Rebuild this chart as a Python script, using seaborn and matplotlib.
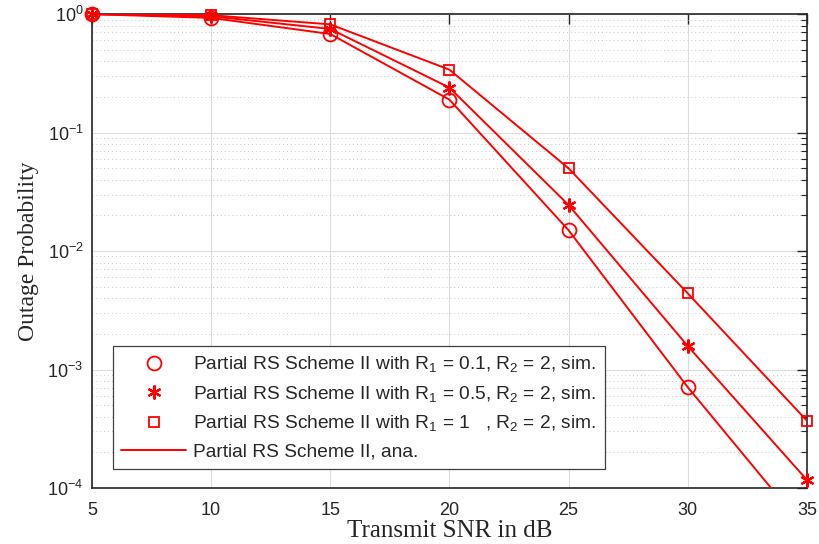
import numpy as np
import pandas as pd
import seaborn as sns
import matplotlib
matplotlib.use("Agg")
import matplotlib.pyplot as plt
from matplotlib.ticker import LogLocator, NullFormatter

snr = [5, 10, 15, 20, 25, 30, 35]
p_r01 = [1.0, 0.93, 0.68, 0.19, 0.0150, 7.1e-4, 4.3e-5]
p_r05 = [1.0, 0.96, 0.75, 0.24, 0.0245, 1.58e-3, 1.17e-4]
p_r1 = [1.0, 0.98, 0.82, 0.34, 0.0500, 4.4e-3, 3.7e-4]
# number of simulated points shown (circle series falls below 1e-4 at 35 dB)
n_sim = [6, 7, 7]

labels = [
    "Partial RS Scheme II with R$_1$ = 0.1, R$_2$ = 2, sim.",
    "Partial RS Scheme II with R$_1$ = 0.5, R$_2$ = 2, sim.",
    "Partial RS Scheme II with R$_1$ = 1   , R$_2$ = 2, sim.",
]
ana_label = "Partial RS Scheme II, ana."
xticks = [5, 10, 15, 20, 25, 30, 35]

sns.set_theme(style="white")
plt.rcParams["font.family"] = ["Liberation Sans", "DejaVu Sans"]
plt.rcParams["mathtext.fontset"] = "custom"
plt.rcParams["mathtext.rm"] = "Liberation Sans"
plt.rcParams["mathtext.it"] = "Liberation Sans"

fig = plt.figure(figsize=(8.2, 5.44), dpi=100)
ax = fig.add_axes([0.112, 0.103, 0.872, 0.871])

red = "#ff0000"
markers = ["o", (6, 2, 0), "s"]
msizes = [10, 10, 7.5]
mews = [1.3, 1.6, 1.3]
series = [p_r01, p_r05, p_r1]

handles = []
for vals, n, mk, ms, mw, lab in zip(series, n_sim, markers, msizes, mews, labels):
    df = pd.DataFrame({"snr": snr, "p": vals})
    sns.lineplot(data=df, x="snr", y="p", ax=ax, color=red, lw=1.4,
                 estimator=None, zorder=3)
    sns.lineplot(data=df.iloc[:n], x="snr", y="p", ax=ax, color=red, marker=mk,
                 markersize=ms, markerfacecolor="none", markeredgecolor=red,
                 markeredgewidth=mw, linestyle="", estimator=None, zorder=4,
                 clip_on=False)
    h = ax.lines[-1]
    h.set_label(lab)
    handles.append(h)

ana_handle = ax.lines[0]
ana_handle.set_label(ana_label)
handles.append(ana_handle)

ax.set_yscale("log")
ax.set_xlim(5, 35)
ax.set_ylim(1e-4, 1)
ax.set_xticks(xticks)
ax.set_xticklabels([str(t) for t in xticks])
ax.yaxis.set_major_locator(LogLocator(base=10, numticks=10))
ax.yaxis.set_minor_locator(LogLocator(base=10, subs=np.arange(2, 10), numticks=20))
ax.yaxis.set_minor_formatter(NullFormatter())

ax.tick_params(axis="both", which="both", direction="in", top=True, right=True,
               labelsize=13, colors="#262626", pad=6)
ax.tick_params(axis="x", which="major", pad=10)
ax.tick_params(axis="both", which="major", length=7, width=1)
ax.tick_params(axis="y", which="minor", length=4, width=0.8)
for s in ax.spines.values():
    s.set_color("#262626")
    s.set_linewidth(1.2)

ax.grid(True, which="major", axis="both", color="#dcdcdc", lw=0.8, linestyle="-")
ax.grid(True, which="minor", axis="y", color="#c8c8c8", lw=0.7, linestyle=(0, (1, 3)))
ax.set_axisbelow(True)

ax.set_xlabel("Transmit SNR in dB", family=["Liberation Serif"], fontsize=18,
              color="#262626", labelpad=1)
ax.set_ylabel("Outage Probability", family=["Liberation Serif"], fontsize=17,
              color="#262626", labelpad=6)

leg = ax.legend(handles=handles, loc="lower left", bbox_to_anchor=(0.029, 0.04),
                borderaxespad=0, fontsize=13.8, frameon=True, fancybox=False,
                edgecolor="#404040", framealpha=1, handlelength=3.4,
                labelspacing=0.5, borderpad=0.45, handletextpad=0.35)
leg.get_frame().set_linewidth(0.9)

fig.savefig("out.png", dpi=100)
